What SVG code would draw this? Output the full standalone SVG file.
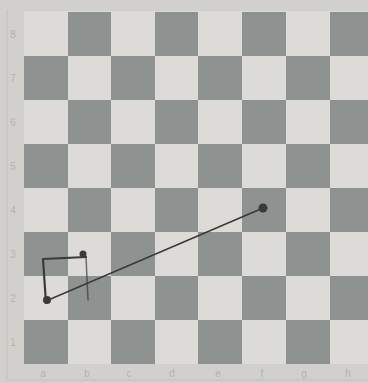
<svg xmlns="http://www.w3.org/2000/svg" width="368" height="383" viewBox="0 0 368 383">
<style>
.l{fill:#dcdbd8}
.d{fill:#8e9290}
.lab{font-family:"Liberation Sans",Arial,sans-serif;font-size:10px;fill:#b4b2ae;text-anchor:middle}
.pen{stroke:#3a3a38;fill:none;stroke-linecap:round;stroke-linejoin:round}
</style>
<rect x="0" y="0" width="368" height="383" fill="#d2d0cd"/>
<g id="frame" fill="none" stroke="#c2c0bc" stroke-width="1">
<line x1="7" y1="10" x2="7" y2="380"/>
<line x1="7" y1="380" x2="368" y2="380"/>
</g>
<g id="board">
<rect x="24" y="11" width="350" height="353" class="l"/>
<rect x="68" y="12" width="43" height="44" class="d"/>
<rect x="155" y="12" width="43" height="44" class="d"/>
<rect x="242" y="12" width="44" height="44" class="d"/>
<rect x="330" y="12" width="44" height="44" class="d"/>
<rect x="24" y="56" width="44" height="44" class="d"/>
<rect x="111" y="56" width="44" height="44" class="d"/>
<rect x="198" y="56" width="44" height="44" class="d"/>
<rect x="286" y="56" width="44" height="44" class="d"/>
<rect x="68" y="100" width="43" height="44" class="d"/>
<rect x="155" y="100" width="43" height="44" class="d"/>
<rect x="242" y="100" width="44" height="44" class="d"/>
<rect x="330" y="100" width="44" height="44" class="d"/>
<rect x="24" y="144" width="44" height="44" class="d"/>
<rect x="111" y="144" width="44" height="44" class="d"/>
<rect x="198" y="144" width="44" height="44" class="d"/>
<rect x="286" y="144" width="44" height="44" class="d"/>
<rect x="68" y="188" width="43" height="44" class="d"/>
<rect x="155" y="188" width="43" height="44" class="d"/>
<rect x="242" y="188" width="44" height="44" class="d"/>
<rect x="330" y="188" width="44" height="44" class="d"/>
<rect x="24" y="232" width="44" height="44" class="d"/>
<rect x="111" y="232" width="44" height="44" class="d"/>
<rect x="198" y="232" width="44" height="44" class="d"/>
<rect x="286" y="232" width="44" height="44" class="d"/>
<rect x="68" y="276" width="43" height="44" class="d"/>
<rect x="155" y="276" width="43" height="44" class="d"/>
<rect x="242" y="276" width="44" height="44" class="d"/>
<rect x="330" y="276" width="44" height="44" class="d"/>
<rect x="24" y="320" width="44" height="44" class="d"/>
<rect x="111" y="320" width="44" height="44" class="d"/>
<rect x="198" y="320" width="44" height="44" class="d"/>
<rect x="286" y="320" width="44" height="44" class="d"/>
</g>
<g id="ranks" class="lab">
<text x="13" y="38">8</text>
<text x="13" y="82">7</text>
<text x="13" y="126">6</text>
<text x="13" y="170">5</text>
<text x="13" y="214">4</text>
<text x="13" y="258">3</text>
<text x="13" y="302">2</text>
<text x="13" y="346">1</text>
</g>
<g id="files" class="lab">
<text x="43" y="377">a</text>
<text x="87" y="377">b</text>
<text x="129" y="377">c</text>
<text x="172" y="377">d</text>
<text x="218" y="377">e</text>
<text x="262" y="377">f</text>
<text x="304" y="377">g</text>
<text x="348" y="377">h</text>
</g>
<g id="connectors">
<line class="pen" x1="46" y1="301" x2="263" y2="208" stroke-width="1.6"/>
<path class="pen" d="M46 303 L43 259 L86 257" stroke-width="2.2"/>
<path class="pen" d="M86 257 L88 300" stroke-width="1.5" stroke-opacity="0.7"/>
</g>
<g id="points" fill="#3a3a38">
<circle id="p-f4" cx="263" cy="208" r="4.5"/>
<circle id="p-b3" cx="83" cy="254" r="3.5"/>
<circle id="p-a2" cx="47" cy="300" r="4"/>
</g>
</svg>
